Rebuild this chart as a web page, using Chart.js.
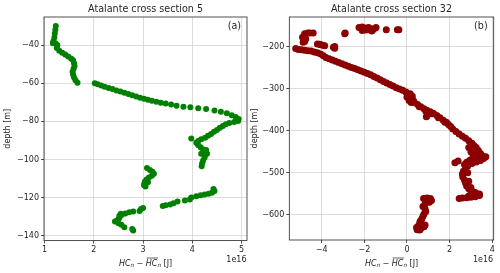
<!DOCTYPE html>
<html>
<head>
<meta charset="utf-8">
<script src="https://cdn.jsdelivr.net/npm/chart.js@4.4.0/dist/chart.umd.min.js"></script>
<style>
html, body { margin: 0; padding: 0; background: #fff; }
#wrap { position: relative; width: 500px; height: 273px; }
.panel { position: absolute; top: 0; width: 250px; height: 273px; }
</style>
</head>
<body>
<div id="wrap">
    <div class="panel" style="left:0"><canvas id="chartA"></canvas></div>
    <div class="panel" style="left:250px"><canvas id="chartB"></canvas></div>
</div>
<script>
// Cross section 5 : HC anomaly (x 1e16 J) and depth (m)
const section5Hc = [
    1.23, 1.22, 1.21, 1.20, 1.18, 1.17, 1.22, 1.26, 1.25, 1.30, 1.36, 1.42, 1.48, 1.54, 1.58, 1.60, 1.61, 1.59, 1.57, 1.58, 1.60, 1.63, 1.67,
    2.02, 2.08, 2.15, 2.22, 2.30, 2.38, 2.46, 2.54, 2.62, 2.70, 2.78, 2.86, 2.94, 3.02, 3.10, 3.18, 3.27, 3.36, 3.46, 3.57, 3.68, 3.82, 3.96,
    4.12, 4.28, 4.45, 4.58, 4.70, 4.80, 4.88, 4.94, 4.93, 4.85, 4.75, 4.68, 4.62, 4.56, 4.50, 4.44, 4.38, 4.32, 4.26, 4.18, 4.12, 4.08,
    4.12, 4.17, 4.22, 4.25, 4.26, 4.25, 4.22, 4.20, 4.19, 4.28, 4.30, 4.18, 3.98,
    3.08, 3.14, 3.19, 3.22, 3.18, 3.12, 3.07, 3.04, 3.03, 3.02, 3.05, 3.10,
    4.43, 4.45, 4.40, 4.33, 4.25, 4.17, 4.08, 3.98, 3.95, 3.85, 3.70, 3.62, 3.55, 3.46, 3.40,
    3.00, 2.96, 2.93, 2.80, 2.72, 2.64, 2.57, 2.53, 2.51, 2.47, 2.43, 2.50, 2.56, 2.62, 2.78, 2.80, 2.55, 2.52
];
const section5Depth = [
    -30, -32, -34, -36, -38, -39, -39, -40, -41.5, -43, -44, -45, -46, -47, -48, -49.5, -51, -52.5, -54, -55.5, -57, -58.5, -59.8,
    -60, -60.6, -61.2, -61.9, -62.5, -63.1, -63.8, -64.4, -65, -65.7, -66.3, -67, -67.6, -68.2, -68.7, -69.2, -69.8, -70.3, -70.7, -71.2, -71.8, -72.3, -72.6,
    -73.2, -73.6, -74.3, -75, -75.8, -76.8, -77.8, -78.8, -79.8, -80.3, -80.9, -81.6, -82.4, -83.4, -84.5, -85.5, -86.6, -87.6, -88.6, -89.4, -90.3, -91.3,
    -92.5, -93.6, -94.8, -96, -97.5, -99, -100.5, -102, -103.5, -95, -97, -97, -89,
    -104.5, -105.5, -106.5, -107.5, -108.5, -109.5, -110.5, -111.5, -112.5, -113.5, -114.2, -112,
    -115.5, -116.5, -117.5, -118, -118.4, -118.8, -119.3, -120, -121, -121.5, -122, -123, -123.6, -124, -124.4,
    -125.5, -126, -127, -127.3, -127.7, -128.3, -129, -130, -131, -132, -132.5, -133.5, -134.3, -135.5, -136.5, -137.3, -128.5, -129.5
];

// Cross section 32
const section32Hc = [
    -5.22, -5.10, -4.95, -4.80, -4.65, -4.50, -4.35, -4.20, -4.05, -3.92, -3.80, -3.65, -3.50, -3.35, -3.20, -3.05, -2.90, -2.75, -2.60, -2.45,
    -2.30, -2.15, -2.00, -1.85, -1.70, -1.55, -1.40, -1.25, -1.10, -0.95, -0.80, -0.65, -0.50, -0.35, -0.20, -0.05, 0.05, 0.12, 0.20, 0.30,
    0.35, 0.50, 0.65, 0.80, 0.95, 1.10, 1.25, 1.40, 1.55, 1.70, 1.85, 1.95, 2.05, 2.15, 2.30, 2.45, 2.60, 2.75, 2.90, 3.05,
    3.15, 3.25, 3.35, 3.45, 3.55, 3.60, 3.45, 3.25, 3.05, 2.85, 2.75, 2.65, 2.60, 2.62, 2.70, 2.75, 2.80, 2.90, 3.00, 3.20,
    3.35, 3.40, 3.20, 3.00, 2.80, 2.60, 2.45,
    0.58, 0.88, 1.18, 1.48, 1.78,
    2.90, 3.00, 3.10, 3.20, 2.95, 3.30, 3.50, 3.70, 3.35, 2.80, 2.70, 3.15, 2.85, 2.90, 3.00, 3.10, 3.40, 2.90, 2.25, 2.40,
    0.00, 0.10, 0.20, 0.25, 0.15, 0.91, 0.95,
    -4.90, -4.80, -4.65, -4.56, -4.40, -4.75, -4.85, -4.87, -4.80, -4.20, -4.05, -3.95, -3.86, -4.10, -3.39, -3.39, -3.45,
    -2.92, -2.90, -2.25, -2.10, -1.95, -1.80, -1.70, -1.60, -1.50, -1.45, -1.65, -2.10, -1.95, -1.85, -0.97, -0.45, -0.38,
    0.78, 0.95, 1.10, 1.15, 1.05, 0.85, 0.75, 0.85, 0.88, 0.80, 0.75, 0.70, 0.62, 0.60, 0.55, 0.45, 0.48, 0.65, 0.80, 0.85, 0.60
];
const section32Depth = [
    -205, -207, -208, -209, -210, -211, -213, -215, -218, -222, -226, -229, -232, -235, -238, -241, -244, -247, -250, -252,
    -255, -258, -261, -264, -267, -271, -275, -279, -283, -287, -290, -294, -298, -301, -304, -308, -314, -320, -325, -328,
    -333, -338, -343, -348, -352, -355, -359, -364, -369, -375, -380, -385, -390, -396, -402, -408, -413, -418, -424, -430,
    -436, -440, -447, -454, -460, -466, -471, -474, -478, -484, -490, -496, -503, -510, -517, -524, -531, -538, -542, -547,
    -551, -554, -557, -558, -559, -560, -561,
    -343, -353, -360, -369, -380,
    -440, -450, -460, -465, -470, -462, -458, -462, -470, -475, -480, -455, -500, -520, -535, -545, -550, -555, -476, -472,
    -320, -328, -333, -318, -312, -367, -364,
    -178, -170, -168, -168, -168, -182, -186, -190, -188, -194, -196, -197, -198, -195, -200, -204, -202,
    -170, -168, -155, -154, -156, -155, -158, -160, -157, -155, -163, -162, -161, -160, -160, -160, -160,
    -561, -560, -561, -566, -570, -574, -580, -586, -592, -598, -603, -609, -615, -620, -625, -630, -635, -632, -628, -624, -636
];

// Tick labels
const xTicks5 = [1, 2, 3, 4, 5];
const yTicks5 = [-40, -60, -80, -100, -120, -140];
const xTicks32 = [-4, -2, 0, 2, 4];
const yTicks32 = [-200, -300, -400, -500, -600];

const FONT = '"DejaVu Sans", sans-serif';

function minusLabel(v) {
    return v < 0 ? '\u2212' + Math.abs(v) : String(v);
}

// HC_n - overline(HC)_n [J]
function drawHcLabel(ctx, cx, cy) {
    const parts = [
        { t: 'HC', f: 'italic 8px ' + FONT, dy: 0 },
        { t: 'n', f: 'italic 5.6px ' + FONT, dy: 1.8 },
        { t: ' \u2212 ', f: '8px ' + FONT, dy: 0 },
        { t: 'HC', f: 'italic 8px ' + FONT, dy: 0, over: true },
        { t: 'n', f: 'italic 5.6px ' + FONT, dy: 1.8 },
        { t: ' [J]', f: '8px ' + FONT, dy: 0 }
    ];
    let total = 0;
    parts.forEach(p => { ctx.font = p.f; p.w = ctx.measureText(p.t).width; total += p.w; });
    let x = cx - total / 2;
    ctx.textAlign = 'left';
    ctx.textBaseline = 'middle';
    parts.forEach(p => {
        ctx.font = p.f;
        ctx.fillText(p.t, x, cy + p.dy);
        if (p.over) {
            ctx.beginPath();
            ctx.moveTo(x + 0.8, cy - 5.5);
            ctx.lineTo(x + p.w + 0.5, cy - 5.5);
            ctx.lineWidth = 0.7;
            ctx.stroke();
        }
        x += p.w;
    });
}

const panelText = {
    id: 'panelText',
    afterDraw(chart, args, opts) {
        const ctx = chart.ctx;
        const a = chart.chartArea;
        ctx.save();
        // full frame
        ctx.strokeStyle = '#262626';
        ctx.lineWidth = 0.8;
        ctx.strokeRect(a.left, a.top, a.right - a.left, a.bottom - a.top);

        ctx.fillStyle = '#262626';
        ctx.strokeStyle = '#262626';
        const cx = (a.left + a.right) / 2;

        ctx.font = '9.6px ' + FONT;
        ctx.textAlign = 'center';
        ctx.textBaseline = 'middle';
        ctx.fillText(opts.title, cx, 9.5);

        ctx.textAlign = 'right';
        ctx.fillText(opts.tag, a.right - 6, 26);

        ctx.font = '8px ' + FONT;
        ctx.fillText('1e16', a.right - 0.5, 259.5);

        ctx.save();
        ctx.translate(opts.yLabelX, (a.top + a.bottom) / 2);
        ctx.rotate(-Math.PI / 2);
        ctx.textAlign = 'center';
        ctx.textBaseline = 'middle';
        ctx.fillText('depth [m]', 0, 0);
        ctx.restore();

        drawHcLabel(ctx, cx, 263.5);
        ctx.restore();
    }
};

function makeChart(id, cfg) {
    const points = cfg.xs.map((x, i) => ({ x: x, y: cfg.ys[i] }));
    const axisBase = {
        type: 'linear',
        z: 1,
        border: { display: false },
        grid: { color: '#d4d4d4', lineWidth: 0.8, tickColor: '#262626', tickLength: 3 },
        ticks: { color: '#262626', font: { family: FONT, size: 8 }, padding: 2, callback: minusLabel }
    };
    new Chart(document.getElementById(id), {
        type: 'scatter',
        data: {
            datasets: [{
                data: points,
                backgroundColor: cfg.color,
                borderWidth: 0,
                pointRadius: cfg.radius,
                pointHoverRadius: cfg.radius
            }]
        },
        options: {
            responsive: true,
            maintainAspectRatio: false,
            animation: false,
            layout: { padding: { top: 17, right: cfg.padRight, left: 0, bottom: 0 } },
            plugins: {
                legend: { display: false },
                tooltip: { enabled: false },
                panelText: { title: cfg.title, tag: cfg.tag, yLabelX: cfg.yLabelX }
            },
            scales: {
                x: Object.assign({}, axisBase, {
                    min: cfg.xMin, max: cfg.xMax,
                    afterBuildTicks: s => { s.ticks = cfg.xTicks.map(v => ({ value: v })); },
                    afterFit: s => { s.height = cfg.xHeight; }
                }),
                y: Object.assign({}, axisBase, {
                    min: cfg.yMin, max: cfg.yMax,
                    afterBuildTicks: s => { s.ticks = cfg.yTicks.map(v => ({ value: v })); },
                    afterFit: s => { s.width = cfg.yWidth; }
                })
            }
        },
        plugins: [panelText]
    });
}

makeChart('chartA', {
    xs: section5Hc, ys: section5Depth, color: '#008000', radius: 3,
    title: 'Atalante cross section 5', tag: '(a)', yLabelX: 8,
    xMin: 0.99, xMax: 5.11, yMin: -142.5, yMax: -25.3,
    xTicks: xTicks5, yTicks: yTicks5,
    yWidth: 44, xHeight: 32.5, padRight: 1
});

makeChart('chartB', {
    xs: section32Hc, ys: section32Depth, color: '#8b0000', radius: 3.5,
    title: 'Atalante cross section 32', tag: '(b)', yLabelX: 4.5,
    xMin: -5.52, xMax: 4.07, yMin: -659.5, yMax: -130,
    xTicks: xTicks32, yTicks: yTicks32,
    yWidth: 39.3, xHeight: 33, padRight: 6.3
});
</script>
</body>
</html>
